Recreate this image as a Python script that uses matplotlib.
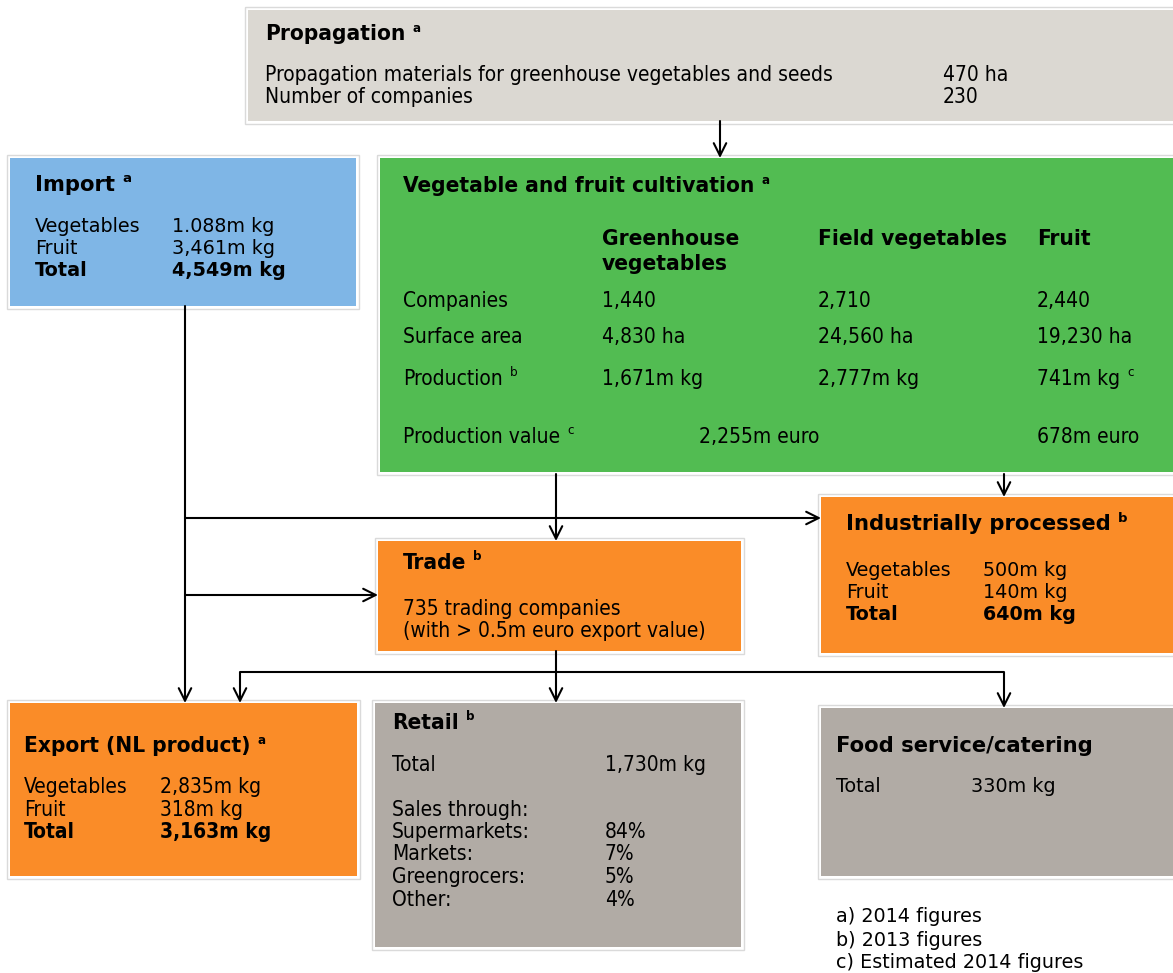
import os
import matplotlib
matplotlib.use("Agg")
import matplotlib.pyplot as plt
from matplotlib import font_manager as fm
from matplotlib.patches import Rectangle

# chain figures (text content of the boxes)
prop_rows = ["Propagation materials for greenhouse vegetables and seeds",
             "Number of companies"]
prop_vals = ["470 ha", "230"]

import_rows = ["Vegetables", "Fruit", "Total"]
import_vals = ["1.088m kg", "3,461m kg", "4,549m kg"]

cult_cols = [["Greenhouse", "vegetables"], ["Field vegetables"], ["Fruit"]]
cult_rows = ["Companies", "Surface area", "Production"]
cult_row_sups = ["", "", "b"]
cult_vals = [["1,440", "2,710", "2,440"],
             ["4,830 ha", "24,560 ha", "19,230 ha"],
             ["1,671m kg", "2,777m kg", "741m kg"]]
prod_value = ["2,255m euro", "678m euro"]

indus_rows = ["Vegetables", "Fruit", "Total"]
indus_vals = ["500m kg", "140m kg", "640m kg"]

trade_lines = ["735 trading companies", "(with > 0.5m euro export value)"]

export_rows = ["Vegetables", "Fruit", "Total"]
export_vals = ["2,835m kg", "318m kg", "3,163m kg"]

retail_total = "1,730m kg"
retail_channels = ["Supermarkets:", "Markets:", "Greengrocers:", "Other:"]
retail_shares = ["84%", "7%", "5%", "4%"]

food_total = "330m kg"

footnotes = ["a) 2014 figures", "b) 2013 figures", "c) Estimated 2014 figures"]

GREY_LIGHT = "#dbd8d2"
BLUE = "#7fb6e6"
GREEN = "#52bc52"
ORANGE = "#fa8c28"
GREY = "#b1aba5"


def find_font(names, weight):
    for f in fm.fontManager.ttflist:
        if os.path.basename(f.fname) in names:
            return fm.FontProperties(fname=f.fname)
    return fm.FontProperties(family="DejaVu Sans", weight=weight,
                             stretch="condensed")


COND = find_font(["DejaVuSansCondensed.ttf",
                  "LiberationSansNarrow-Regular.ttf"], "normal")
COND_B = find_font(["DejaVuSansCondensed-Bold.ttf",
                    "LiberationSansNarrow-Bold.ttf"], "bold")
WIDE = fm.FontProperties(family="DejaVu Sans")
WIDE_B = fm.FontProperties(family="DejaVu Sans", weight="bold")

# font sizes (pt)
C_BODY, C_HEAD = 15, 16.2
W_BODY, W_HEAD = 13.8, 15.2

fig = plt.figure(figsize=(11.73, 9.73), dpi=100)
ax = fig.add_axes([0, 0, 1, 1])
ax.set_xlim(0, 1173)
ax.set_ylim(973, 0)
ax.axis("off")
renderer = fig.canvas.get_renderer()


def txt(x, y, s, fp, size):
    p = fp.copy()
    p.set_size(size)
    return ax.text(x, y, s, fontproperties=p, va="center", ha="left",
                   color="black")


def title(x, y, s, sup, fp, size):
    t = txt(x, y, s, fp, size)
    if sup:
        bb = t.get_window_extent(renderer)
        x1 = ax.transData.inverted().transform((bb.x1, bb.y1))[0]
        txt(x1 + 7, y - 6, sup, fp, 9.5)


def box(x0, y0, x1, y1, color):
    ax.add_patch(Rectangle((x0 - 3, y0 - 3), x1 - x0 + 6, y1 - y0 + 6,
                           fill=False, edgecolor="#dadada", lw=1))
    ax.add_patch(Rectangle((x0, y0), x1 - x0, y1 - y0, facecolor=color,
                           edgecolor="none"))


def arrow(x0, y0, x1, y1):
    ax.annotate("", xy=(x1, y1), xytext=(x0, y0),
                arrowprops=dict(arrowstyle="->,head_length=0.6,head_width=0.3",
                                lw=1.5, color="black", mutation_scale=15,
                                shrinkA=0, shrinkB=0))


def line(xs, ys):
    ax.plot(xs, ys, color="black", lw=1.5, solid_capstyle="butt")


# boxes
box(248, 10, 1176, 121, GREY_LIGHT)
box(10, 158, 356, 306, BLUE)
box(380, 158, 1176, 472, GREEN)
box(821, 497, 1176, 653, ORANGE)
box(378, 541, 741, 651, ORANGE)
box(10, 703, 357, 876, ORANGE)
box(375, 703, 741, 947, GREY)
box(821, 708, 1176, 876, GREY)

# connectors
arrow(720, 121, 720, 158)
arrow(185, 306, 185, 703)
arrow(185, 518, 821, 518)
arrow(185, 595, 378, 595)
arrow(556, 474, 556, 541)
arrow(1004, 474, 1004, 497)
arrow(556, 651, 556, 703)
line([240, 1004], [672, 672])
arrow(240, 672, 240, 703)
arrow(1004, 672, 1004, 708)

# propagation
title(265, 34, "Propagation", "a", COND_B, C_HEAD)
for i, (r, v) in enumerate(zip(prop_rows, prop_vals)):
    txt(265, 75 + 22 * i, r, COND, C_BODY)
    txt(943, 75 + 22 * i, v, COND, C_BODY)

# import
title(35, 185, "Import", "a", WIDE_B, W_HEAD)
for i, (r, v) in enumerate(zip(import_rows, import_vals)):
    fp = WIDE_B if r == "Total" else WIDE
    txt(35, 227 + 22 * i, r, fp, W_BODY)
    txt(172, 227 + 22 * i, v, fp, W_BODY)

# cultivation
col_x = [602, 818, 1037]
title(403, 186, "Vegetable and fruit cultivation", "a", COND_B, C_HEAD)
for cx, head in zip(col_x, cult_cols):
    for j, h in enumerate(head):
        txt(cx, 239 + 25 * j, h, COND_B, C_HEAD)
row_y = [301, 337, 379]
for ry, r, sup, vals in zip(row_y, cult_rows, cult_row_sups, cult_vals):
    title(403, ry, r, sup, COND, C_BODY)
    for cx, v in zip(col_x, vals):
        title(cx, ry, v, "c" if v == "741m kg" else "", COND, C_BODY)
title(403, 437, "Production value", "c", COND, C_BODY)
txt(699, 437, prod_value[0], COND, C_BODY)
txt(1037, 437, prod_value[1], COND, C_BODY)

# industrially processed
title(846, 524, "Industrially processed", "b", WIDE_B, W_HEAD)
for i, (r, v) in enumerate(zip(indus_rows, indus_vals)):
    fp = WIDE_B if r == "Total" else WIDE
    txt(846, 570 + 22.5 * i, r, fp, W_BODY)
    txt(983, 570 + 22.5 * i, v, fp, W_BODY)

# trade
title(403, 563, "Trade", "b", COND_B, C_HEAD)
for i, s in enumerate(trade_lines):
    txt(403, 609 + 22 * i, s, COND, C_BODY)

# export
title(24, 746, "Export (NL product)", "a", COND_B, C_HEAD)
for i, (r, v) in enumerate(zip(export_rows, export_vals)):
    fp = COND_B if r == "Total" else COND
    txt(24, 787 + 22.5 * i, r, fp, C_BODY)
    txt(160, 787 + 22.5 * i, v, fp, C_BODY)

# retail
title(392, 723, "Retail", "b", COND_B, C_HEAD)
txt(392, 765, "Total", COND, C_BODY)
txt(605, 765, retail_total, COND, C_BODY)
txt(392, 810, "Sales through:", COND, C_BODY)
for i, (r, v) in enumerate(zip(retail_channels, retail_shares)):
    txt(392, 832 + 22.5 * i, r, COND, C_BODY)
    txt(605, 832 + 22.5 * i, v, COND, C_BODY)

# food service
title(836, 746, "Food service/catering", "", WIDE_B, W_HEAD)
txt(836, 787, "Total", WIDE, W_BODY)
txt(971, 787, food_total, WIDE, W_BODY)

for i, s in enumerate(footnotes):
    txt(836, 917 + 23 * i, s, WIDE, W_BODY)

fig.savefig("out.png", dpi=100)
